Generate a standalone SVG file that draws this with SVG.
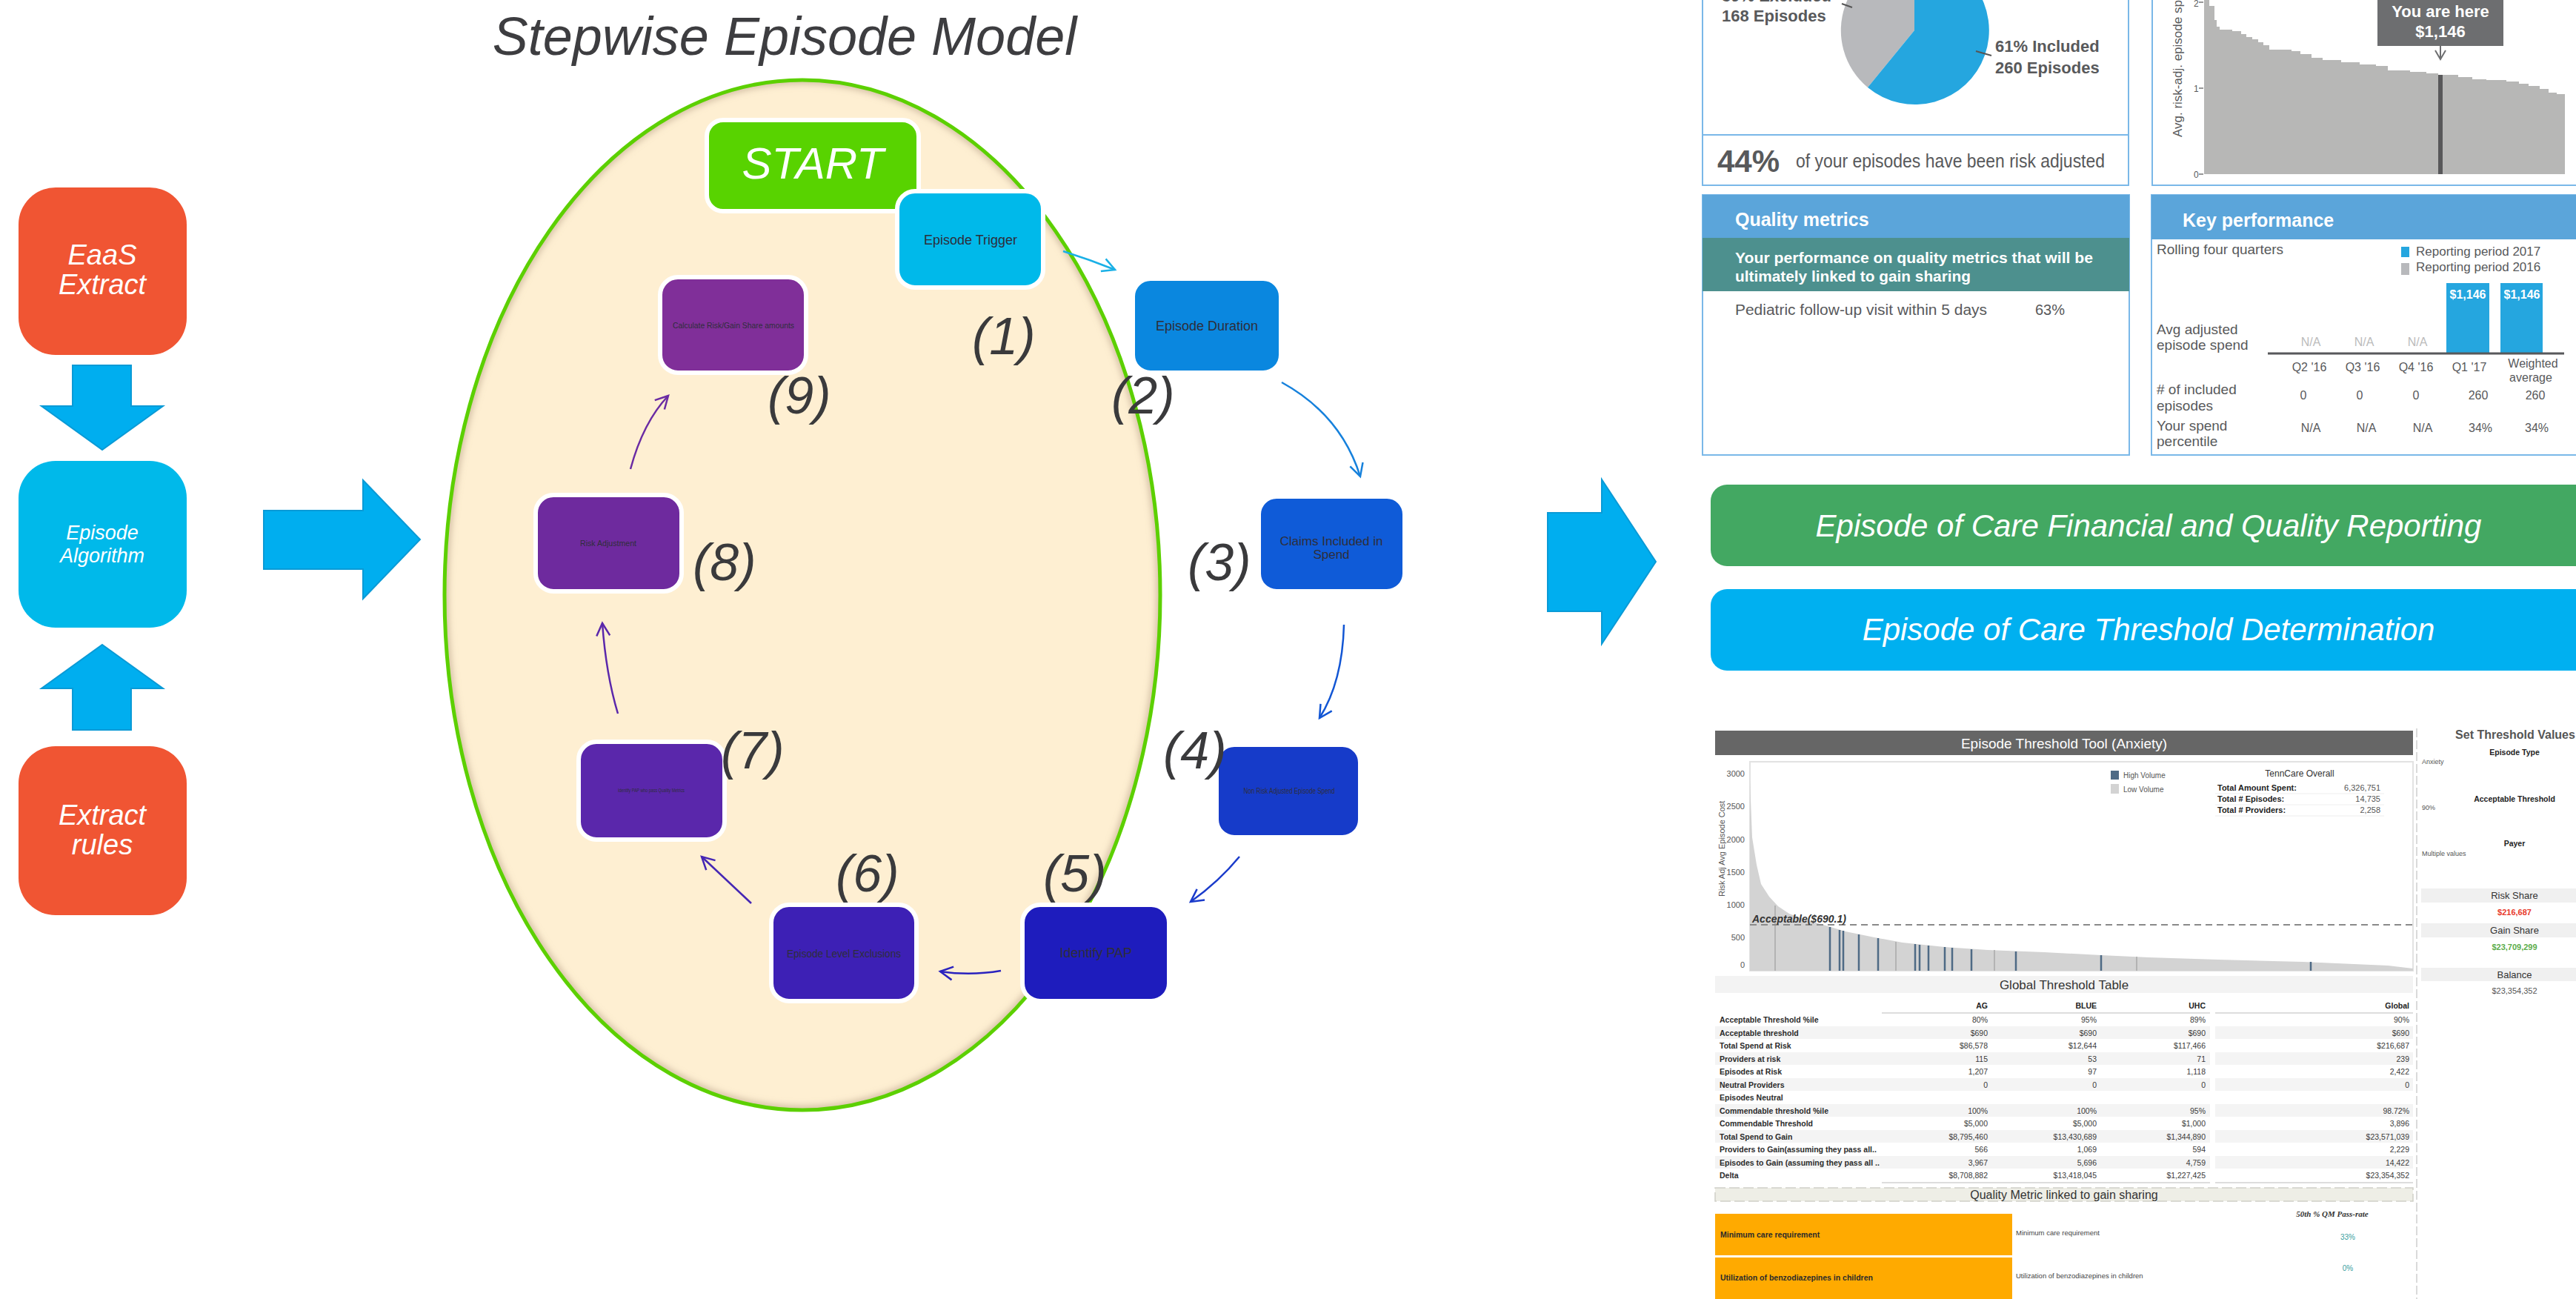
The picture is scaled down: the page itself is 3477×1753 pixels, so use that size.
<svg xmlns="http://www.w3.org/2000/svg" width="3477" height="1753" viewBox="0 0 3477 1753">
<style>
.t{font-family:"Liberation Sans",Arial,sans-serif}
.num{font-family:"Liberation Sans",Arial,sans-serif;font-style:italic;font-size:70px;fill:#3a3a3c}
.nd{stroke:#fff;stroke-width:6}
.ntx{font-family:"Liberation Sans",Arial,sans-serif;fill:#2e2e3a;text-anchor:middle}
.big{fill:#00AEEF;stroke:#0A9AD6;stroke-width:2}
.wl{font-family:"Liberation Sans",Arial,sans-serif;font-style:italic;fill:#fff;text-anchor:middle}
.con{fill:none;stroke-width:2.5}
.db{font-family:"Liberation Sans",Arial,sans-serif;fill:#58595B}
.dbb{font-family:"Liberation Sans",Arial,sans-serif;fill:#58595B;font-weight:bold}
.wb{font-family:"Liberation Sans",Arial,sans-serif;fill:#fff;font-weight:bold}
.pb{fill:none;stroke:#7AB8E8;stroke-width:2}
.tl{font-family:"Liberation Sans",Arial,sans-serif;font-size:10.5px;fill:#2b2b2b;font-weight:bold}
.tv{font-family:"Liberation Sans",Arial,sans-serif;font-size:10.5px;fill:#3a3a3a;text-anchor:end}
.sh{fill:#F4F4F4}
.hv{stroke:#4E6A85;stroke-width:2.5}
.lv{stroke:#A9A9A9;stroke-width:1.5}
</style>
<defs>
<marker id="m1" markerUnits="userSpaceOnUse" markerWidth="26" markerHeight="24" refX="20" refY="12" orient="auto"><path d="M3,3 L20,12 L3,21" fill="none" stroke="#1AB0E6" stroke-width="2.5"/></marker>
<marker id="m2" markerUnits="userSpaceOnUse" markerWidth="26" markerHeight="24" refX="20" refY="12" orient="auto"><path d="M3,3 L20,12 L3,21" fill="none" stroke="#1681DC" stroke-width="2.5"/></marker>
<marker id="m3" markerUnits="userSpaceOnUse" markerWidth="26" markerHeight="24" refX="20" refY="12" orient="auto"><path d="M3,3 L20,12 L3,21" fill="none" stroke="#1256D4" stroke-width="2.5"/></marker>
<marker id="m4" markerUnits="userSpaceOnUse" markerWidth="26" markerHeight="24" refX="20" refY="12" orient="auto"><path d="M3,3 L20,12 L3,21" fill="none" stroke="#1A3BCB" stroke-width="2.5"/></marker>
<marker id="m5" markerUnits="userSpaceOnUse" markerWidth="26" markerHeight="24" refX="20" refY="12" orient="auto"><path d="M3,3 L20,12 L3,21" fill="none" stroke="#2A22BE" stroke-width="2.5"/></marker>
<marker id="m6" markerUnits="userSpaceOnUse" markerWidth="26" markerHeight="24" refX="20" refY="12" orient="auto"><path d="M3,3 L20,12 L3,21" fill="none" stroke="#4526B4" stroke-width="2.5"/></marker>
<marker id="m7" markerUnits="userSpaceOnUse" markerWidth="26" markerHeight="24" refX="20" refY="12" orient="auto"><path d="M3,3 L20,12 L3,21" fill="none" stroke="#5A27AB" stroke-width="2.5"/></marker>
<marker id="m8" markerUnits="userSpaceOnUse" markerWidth="26" markerHeight="24" refX="20" refY="12" orient="auto"><path d="M3,3 L20,12 L3,21" fill="none" stroke="#6A2BA3" stroke-width="2.5"/></marker>
<marker id="ma" markerUnits="userSpaceOnUse" markerWidth="16" markerHeight="16" refX="8" refY="14" orient="0"><path d="M1,2 L8,14 L15,2" fill="none" stroke="#6D6E70" stroke-width="2"/></marker>
<clipPath id="ec"><ellipse cx="1083" cy="803" rx="483" ry="695"/></clipPath>
<filter id="bl" x="-10%" y="-10%" width="120%" height="120%"><feGaussianBlur stdDeviation="5"/></filter>
</defs>
<rect width="3477" height="1753" fill="#fff"/>

<!-- Title -->
<text class="t" x="1059" y="74" font-size="72" font-style="italic" fill="#3d3d40" text-anchor="middle">Stepwise Episode Model</text>

<!-- Left column -->
<g id="eaas-extract">
<rect x="25" y="253" width="227" height="226" rx="50" fill="#F05533"/>
<text class="wl" x="138" y="357" font-size="38">EaaS</text>
<text class="wl" x="138" y="397" font-size="38">Extract</text>
</g>
<g id="episode-algorithm">
<rect x="25" y="622" width="227" height="225" rx="50" fill="#00B9EA"/>
<text class="wl" x="138" y="728" font-size="27">Episode</text>
<text class="wl" x="138" y="759" font-size="27">Algorithm</text>
</g>
<g id="extract-rules">
<rect x="25" y="1007" width="227" height="228" rx="50" fill="#F05533"/>
<text class="wl" x="138" y="1113" font-size="38">Extract</text>
<text class="wl" x="138" y="1153" font-size="38">rules</text>
</g>
<g id="big-arrows">
<polygon class="big" points="98,493 177,493 177,548 220,548 138,607 56,548 98,548"/>
<polygon class="big" points="138,870 220,929 177,929 177,985 98,985 98,929 56,929"/>
<polygon class="big" points="356,689 490,689 490,648 567,728 490,808 490,768 356,768"/>
<polygon class="big" points="2089,692 2162,692 2162,647 2235,758 2162,869 2162,825 2089,825"/>
</g>

<!-- Circle -->
<g id="cycle-circle">
<ellipse cx="1083" cy="803" rx="483" ry="695" fill="#FEEFD2"/>
<g clip-path="url(#ec)"><ellipse cx="1083" cy="803" rx="483" ry="695" fill="none" stroke="#B09A80" stroke-opacity="0.6" stroke-width="10" filter="url(#bl)"/></g>
<ellipse cx="1083" cy="803" rx="483" ry="695" fill="none" stroke="#5CD000" stroke-width="5"/>
</g>

<!-- Connectors -->
<g id="connectors">
<path class="con" stroke="#1AB0E6" marker-end="url(#m1)" d="M1435,339 Q1470,350 1505,364"/>
<path class="con" stroke="#1681DC" marker-end="url(#m2)" d="M1730,516 Q1810,560 1836,643"/>
<path class="con" stroke="#1256D4" marker-end="url(#m3)" d="M1814,843 Q1812,920 1781,969"/>
<path class="con" stroke="#1A3BCB" marker-end="url(#m4)" d="M1673,1156 Q1645,1190 1607,1217"/>
<path class="con" stroke="#2A22BE" marker-end="url(#m5)" d="M1351,1310 Q1310,1317 1269,1311"/>
<path class="con" stroke="#4526B4" marker-end="url(#m6)" d="M1014,1219 L947,1156"/>
<path class="con" stroke="#5A27AB" marker-end="url(#m7)" d="M834,963 Q818,910 813,841"/>
<path class="con" stroke="#6A2BA3" marker-end="url(#m8)" d="M851,633 Q868,570 902,534"/>
</g>

<!-- Nodes -->
<g id="start">
<rect class="nd" x="954" y="162" width="286" height="123" rx="22" fill="#58D300"/>
<text class="wl" x="1097" y="241" font-size="60">START</text>
</g>
<g id="step1">
<rect class="nd" x="1211" y="258" width="197" height="130" rx="24" fill="#00B9EA"/>
<text class="ntx" x="1310" y="330" font-size="18">Episode Trigger</text>
<text class="num" x="1312" y="478">(1)</text>
</g>
<g id="step2">
<rect class="nd" x="1529" y="376" width="200" height="127" rx="24" fill="#0A87DF"/>
<text class="ntx" x="1629" y="446" font-size="18">Episode Duration</text>
<text class="num" x="1500" y="558">(2)</text>
</g>
<g id="step3">
<rect class="nd" x="1699" y="670" width="197" height="128" rx="24" fill="#0F5BD8"/>
<text class="ntx" x="1797" y="736" font-size="17">Claims Included in</text>
<text class="ntx" x="1797" y="754" font-size="17">Spend</text>
<text class="num" x="1603" y="783">(3)</text>
</g>
<g id="step4">
<rect class="nd" x="1642" y="1005" width="194" height="125" rx="24" fill="#163BC9"/>
<text class="ntx" x="1740" y="1071" font-size="10" textLength="123" lengthAdjust="spacingAndGlyphs">Non Risk Adjusted Episode Spend</text>
<text class="num" x="1570" y="1037">(4)</text>
</g>
<g id="step5">
<rect class="nd" x="1380" y="1221" width="198" height="130" rx="24" fill="#1E1CBD"/>
<text class="ntx" x="1479" y="1292" font-size="18">Identify PAP</text>
<text class="num" x="1408" y="1203">(5)</text>
</g>
<g id="step6">
<rect class="nd" x="1041" y="1221" width="196" height="130" rx="24" fill="#3D20B5"/>
<text class="ntx" x="1139" y="1292" font-size="14" textLength="154" lengthAdjust="spacingAndGlyphs">Episode Level Exclusions</text>
<text class="num" x="1128" y="1203">(6)</text>
</g>
<g id="step7">
<rect class="nd" x="781" y="1001" width="197" height="132" rx="24" fill="#5A27AB"/>
<text class="ntx" x="879" y="1069" font-size="7" textLength="90" lengthAdjust="spacingAndGlyphs">Identify PAP who pass Quality Metrics</text>
<text class="num" x="973" y="1037">(7)</text>
</g>
<g id="step8">
<rect class="nd" x="723" y="668" width="197" height="130" rx="24" fill="#6E2A9E"/>
<text class="ntx" x="821" y="737" font-size="10" textLength="76" lengthAdjust="spacingAndGlyphs">Risk Adjustment</text>
<text class="num" x="935" y="783">(8)</text>
</g>
<g id="step9">
<rect class="nd" x="891" y="374" width="197" height="129" rx="24" fill="#802F99"/>
<text class="ntx" x="990" y="443" font-size="11" textLength="164" lengthAdjust="spacingAndGlyphs">Calculate Risk/Gain Share amounts</text>
<text class="num" x="1036" y="558">(9)</text>
</g>

<!-- Right side: report dashboard -->
<g id="report-dashboard">
<path class="pb" d="M2298,0 V250 H2873 V0 M2298,182 H2873"/>
<path d="M2584,41 L2521,118 A100,100 0 0 1 2584,-59 Z" fill="#B8B9BC"/>
<path d="M2584,41 L2584,-59 A100,100 0 1 1 2521,118 Z" fill="#25A6DF"/>
<path d="M2486,5 L2500,10 M2667,69 L2688,75" stroke="#555" stroke-width="2"/>
<text class="dbb" x="2324" y="2" font-size="22">39% Excluded</text>
<text class="dbb" x="2324" y="29" font-size="22">168 Episodes</text>
<text class="dbb" x="2693" y="70" font-size="22">61% Included</text>
<text class="dbb" x="2693" y="99" font-size="22">260 Episodes</text>
<text class="dbb" x="2318" y="232" font-size="42">44%</text>
<text class="db" x="2424" y="226" font-size="25" textLength="417" lengthAdjust="spacingAndGlyphs">of your episodes have been risk adjusted</text>

<path class="pb" d="M2905,0 V250 H3480"/>
<text class="db" transform="translate(2945,185) rotate(-90)" font-size="17" fill="#6D6E70">Avg. risk-adj. episode spend</text>
<text class="db" x="2961" y="9" font-size="12">2</text>
<text class="db" x="2961" y="124" font-size="12">1</text>
<text class="db" x="2961" y="240" font-size="12">0</text>
<path d="M2968,3 H2974 M2968,119 H2974 M2968,235 H2974" stroke="#777" stroke-width="1.5"/>
<path fill="#B7B7B6" d="M2975,235 L2975,0 L2982,0 L2982,8 L2989,8 L2989,27 L2992,27 L2992,36 L2996,36 L2996,40 L3013,40 L3013,42 L3025,42 L3025,46 L3032,46 L3032,50 L3040,50 L3040,53 L3048,53 L3048,57 L3055,57 L3055,61 L3063,61 L3063,67 L3093,67 L3093,69 L3105,69 L3105,73 L3120,73 L3120,78 L3135,78 L3135,81 L3160,81 L3160,84 L3185,84 L3185,87 L3207,87 L3207,89 L3223,89 L3223,95 L3253,95 L3253,97 L3275,97 L3275,99 L3291,99 L3291,101 L3318,101 L3318,104 L3337,104 L3337,107 L3356,107 L3356,108 L3383,108 L3383,110 L3400,110 L3400,113 L3413,113 L3413,116 L3428,116 L3428,120 L3440,120 L3440,125 L3451,125 L3451,127 L3462,127 L3462,235 Z"/>
<rect x="3291" y="101" width="6" height="134" fill="#58585A"/>
<rect x="3209" y="0" width="170" height="62" fill="#6D6E70"/>
<text class="wb" x="3294" y="23" font-size="22" text-anchor="middle">You are here</text>
<text class="wb" x="3294" y="50" font-size="22" text-anchor="middle">$1,146</text>
<path d="M3294,62 V80" stroke="#6D6E70" stroke-width="2" marker-end="url(#ma)"/>

<rect x="2298" y="263" width="576" height="351" class="pb"/>
<rect x="2298" y="263" width="576" height="58" fill="#5BA5DA"/>
<rect x="2298" y="321" width="576" height="72" fill="#4D908E"/>
<text class="wb" x="2342" y="305" font-size="25">Quality metrics</text>
<text class="wb" x="2342" y="355" font-size="21" textLength="483" lengthAdjust="spacingAndGlyphs">Your performance on quality metrics that will be</text>
<text class="wb" x="2342" y="380" font-size="21" textLength="318" lengthAdjust="spacingAndGlyphs">ultimately linked to gain sharing</text>
<text class="db" x="2342" y="425" font-size="20" textLength="340" lengthAdjust="spacingAndGlyphs">Pediatric follow-up visit within 5 days</text>
<text class="db" x="2747" y="425" font-size="20">63%</text>

<path class="pb" d="M3480,263 H2904 V614 H3480"/>
<rect x="2904" y="263" width="580" height="60" fill="#5BA5DA"/>
<text class="wb" x="2946" y="306" font-size="25">Key performance</text>
<text class="db" x="2911" y="343" font-size="19">Rolling four quarters</text>
<rect x="3241" y="333" width="11" height="14" fill="#25A6DF"/>
<rect x="3241" y="355" width="11" height="16" fill="#B8B9BC"/>
<text class="db" x="3261" y="345" font-size="17">Reporting period 2017</text>
<text class="db" x="3261" y="366" font-size="17">Reporting period 2016</text>
<rect x="3302" y="382" width="58" height="94" fill="#25A6DF"/>
<rect x="3375" y="382" width="57" height="94" fill="#25A6DF"/>
<text class="wb" x="3331" y="403" font-size="16" text-anchor="middle">$1,146</text>
<text class="wb" x="3404" y="403" font-size="16" text-anchor="middle">$1,146</text>
<path d="M3061,477 H3461" stroke="#58595B" stroke-width="3"/>
<text class="db" x="2911" y="451" font-size="19">Avg adjusted</text>
<text class="db" x="2911" y="472" font-size="19">episode spend</text>
<g font-size="16" fill="#BBBBBB" font-family="Liberation Sans, Arial, sans-serif" text-anchor="middle">
<text x="3119" y="467">N/A</text><text x="3191" y="467">N/A</text><text x="3263" y="467">N/A</text>
</g>
<g class="db" font-size="16" text-anchor="middle">
<text x="3117" y="501">Q2 '16</text><text x="3189" y="501">Q3 '16</text><text x="3261" y="501">Q4 '16</text><text x="3333" y="501">Q1 '17</text>
<text x="3419" y="496">Weighted</text><text x="3416" y="515">average</text>
<text x="3109" y="539">0</text><text x="3185" y="539">0</text><text x="3261" y="539">0</text><text x="3345" y="539">260</text><text x="3422" y="539">260</text>
<text x="3119" y="583">N/A</text><text x="3194" y="583">N/A</text><text x="3270" y="583">N/A</text><text x="3348" y="583">34%</text><text x="3424" y="583">34%</text>
</g>
<text class="db" x="2911" y="532" font-size="19"># of included</text>
<text class="db" x="2911" y="554" font-size="19">episodes</text>
<text class="db" x="2911" y="581" font-size="19">Your spend</text>
<text class="db" x="2911" y="602" font-size="19">percentile</text>
</g>

<g id="financial-quality-reporting">
<rect x="2309" y="654" width="1200" height="110" rx="22" fill="#43A862"/>
<text class="wl" x="2900" y="724" font-size="42">Episode of Care Financial and Quality Reporting</text>
</g>
<g id="threshold-determination">
<rect x="2309" y="795" width="1200" height="110" rx="22" fill="#00B0F0"/>
<text class="wl" x="2900" y="864" font-size="42">Episode of Care Threshold Determination</text>
</g>

<!-- Threshold tool screenshot -->
<g id="threshold-tool">
<rect x="2315" y="986" width="942" height="33" fill="#666666"/>
<text class="t" x="2786" y="1010" font-size="19" fill="#fff" text-anchor="middle">Episode Threshold Tool (Anxiety)</text>
<rect x="2362" y="1028" width="895" height="282" fill="#fff" stroke="#E2E2E2" stroke-width="2"/>
<g class="t" font-size="11" fill="#555" text-anchor="end">
<text x="2355" y="1048">3000</text><text x="2355" y="1092">2500</text><text x="2355" y="1137">2000</text><text x="2355" y="1181">1500</text><text x="2355" y="1225">1000</text><text x="2355" y="1269">500</text><text x="2355" y="1306">0</text>
</g>
<text class="t" transform="translate(2328,1210) rotate(-90)" font-size="11" fill="#555">Risk Adj Avg Episode Cost</text>
<path fill="#D3D3D3" d="M2362,1310 L2362,1054 L2365,1130 L2371,1167 L2377,1193 L2388,1210 L2400,1223 L2415,1233 L2434,1240 L2461,1248 L2491,1257 L2530,1265 L2568,1272 L2625,1278 L2683,1282 L2759,1285 L2836,1289 L2900,1292 L2994,1295 L3108,1298 L3223,1303 L3257,1307 L3257,1310 Z"/>
<path class="lv" d="M2396,1222 V1310 M2559,1271 V1310 M2692,1282 V1310 M2884,1291 V1310"/>
<path class="hv" d="M2470,1251 V1310 M2483,1255 V1310 M2488,1256 V1310 M2509,1261 V1310 M2535,1266 V1310 M2585,1274 V1310 M2591,1275 V1310 M2603,1276 V1310 M2625,1278 V1310 M2635,1279 V1310 M2661,1281 V1310 M2721,1284 V1310 M2836,1289 V1310 M3119,1298 V1310"/>
<path d="M2362,1248 H3257" stroke="#8A8A8A" stroke-width="2" stroke-dasharray="9,6"/>
<text class="t" x="2365" y="1245" font-size="14" font-weight="bold" font-style="italic" fill="#333">Acceptable($690.1)</text>
<rect x="2849" y="1040" width="11" height="12" fill="#4E6A85"/>
<rect x="2849" y="1058" width="11" height="13" fill="#D3D3D3"/>
<text class="t" x="2866" y="1050" font-size="10" fill="#555">High Volume</text>
<text class="t" x="2866" y="1069" font-size="10" fill="#555">Low Volume</text>
<text class="t" x="3104" y="1048" font-size="12" fill="#333" text-anchor="middle">TennCare Overall</text>
<g class="t" font-size="11" fill="#222">
<text x="2993" y="1067" font-weight="bold">Total Amount Spent:</text>
<text x="2993" y="1082" font-weight="bold">Total # Episodes:</text>
<text x="2993" y="1097" font-weight="bold">Total # Providers:</text>
<text x="3213" y="1067" text-anchor="end" fill="#555">6,326,751</text>
<text x="3213" y="1082" text-anchor="end" fill="#555">14,735</text>
<text x="3213" y="1097" text-anchor="end" fill="#555">2,258</text>
</g>
<path d="M2990,1071 H3218 M2990,1086 H3218 M2990,1101 H3218" stroke="#EEEEEE" stroke-width="1"/>

<path d="M3262,983 V1753" stroke="#DADADA" stroke-width="2" stroke-dasharray="12,4"/>
<text class="t" x="3395" y="997" font-size="16" fill="#555" font-weight="bold" text-anchor="middle">Set Threshold Values</text>
<g class="t" font-size="10.5" font-weight="bold" fill="#222" text-anchor="middle">
<text x="3394" y="1019">Episode Type</text>
<text x="3394" y="1082">Acceptable Threshold</text>
<text x="3394" y="1142">Payer</text>
</g>
<g class="t" font-size="9" fill="#555">
<text x="3269" y="1031">Anxiety</text>
<text x="3269" y="1093">90%</text>
<text x="3269" y="1155">Multiple values</text>
</g>
<rect x="3268" y="1199" width="215" height="19" fill="#F0F0F0"/>
<rect x="3268" y="1246" width="215" height="19" fill="#F0F0F0"/>
<rect x="3268" y="1306" width="215" height="18" fill="#F0F0F0"/>
<g class="t" font-size="13" fill="#333" text-anchor="middle">
<text x="3394" y="1213">Risk Share</text>
<text x="3394" y="1260">Gain Share</text>
<text x="3394" y="1320">Balance</text>
</g>
<g class="t" font-size="11" font-weight="bold" text-anchor="middle">
<text x="3394" y="1235" fill="#E8392B">$216,687</text>
<text x="3394" y="1282" fill="#5CAD4B">$23,709,299</text>
<text x="3394" y="1341" fill="#555" font-weight="normal">$23,354,352</text>
</g>

<rect x="2315" y="1317" width="942" height="23" fill="#F3F3F3"/>
<text class="t" x="2786" y="1335" font-size="17" fill="#333" text-anchor="middle">Global Threshold Table</text>
<g class="t" font-size="10.5" font-weight="bold" fill="#222" text-anchor="end">
<text x="2683" y="1361">AG</text><text x="2830" y="1361">BLUE</text><text x="2977" y="1361">UHC</text><text x="3252" y="1361">Global</text>
</g>
<path d="M2540,1367 H2983 M2990,1367 H3257 M2540,1596 H2983 M2990,1596 H3257" stroke="#DDDDDD" stroke-width="2"/>
<g>
<rect class="sh" x="2315" y="1385" width="668" height="17"/><rect class="sh" x="2990" y="1385" width="267" height="17"/>
<rect class="sh" x="2315" y="1420" width="668" height="17"/><rect class="sh" x="2990" y="1420" width="267" height="17"/>
<rect class="sh" x="2315" y="1455" width="668" height="17"/><rect class="sh" x="2990" y="1455" width="267" height="17"/>
<rect class="sh" x="2315" y="1490" width="668" height="17"/><rect class="sh" x="2990" y="1490" width="267" height="17"/>
<rect class="sh" x="2315" y="1525" width="668" height="17"/><rect class="sh" x="2990" y="1525" width="267" height="17"/>
<rect class="sh" x="2315" y="1560" width="668" height="17"/><rect class="sh" x="2990" y="1560" width="267" height="17"/>
</g>
<g>
<text class="tl" x="2321" y="1380">Acceptable Threshold %ile</text>
<text class="tl" x="2321" y="1398">Acceptable threshold</text>
<text class="tl" x="2321" y="1415">Total Spend at Risk</text>
<text class="tl" x="2321" y="1433">Providers at risk</text>
<text class="tl" x="2321" y="1450">Episodes at Risk</text>
<text class="tl" x="2321" y="1468">Neutral Providers</text>
<text class="tl" x="2321" y="1485">Episodes Neutral</text>
<text class="tl" x="2321" y="1503">Commendable threshold %ile</text>
<text class="tl" x="2321" y="1520">Commendable Threshold</text>
<text class="tl" x="2321" y="1538">Total Spend to Gain</text>
<text class="tl" x="2321" y="1555">Providers to Gain(assuming they pass all..</text>
<text class="tl" x="2321" y="1573">Episodes to Gain (assuming they pass all ..</text>
<text class="tl" x="2321" y="1590">Delta</text>
</g>
<g>
<text class="tv" x="2683" y="1380">80%</text><text class="tv" x="2830" y="1380">95%</text><text class="tv" x="2977" y="1380">89%</text><text class="tv" x="3252" y="1380">90%</text>
<text class="tv" x="2683" y="1398">$690</text><text class="tv" x="2830" y="1398">$690</text><text class="tv" x="2977" y="1398">$690</text><text class="tv" x="3252" y="1398">$690</text>
<text class="tv" x="2683" y="1415">$86,578</text><text class="tv" x="2830" y="1415">$12,644</text><text class="tv" x="2977" y="1415">$117,466</text><text class="tv" x="3252" y="1415">$216,687</text>
<text class="tv" x="2683" y="1433">115</text><text class="tv" x="2830" y="1433">53</text><text class="tv" x="2977" y="1433">71</text><text class="tv" x="3252" y="1433">239</text>
<text class="tv" x="2683" y="1450">1,207</text><text class="tv" x="2830" y="1450">97</text><text class="tv" x="2977" y="1450">1,118</text><text class="tv" x="3252" y="1450">2,422</text>
<text class="tv" x="2683" y="1468">0</text><text class="tv" x="2830" y="1468">0</text><text class="tv" x="2977" y="1468">0</text><text class="tv" x="3252" y="1468">0</text>
<text class="tv" x="2683" y="1503">100%</text><text class="tv" x="2830" y="1503">100%</text><text class="tv" x="2977" y="1503">95%</text><text class="tv" x="3252" y="1503">98.72%</text>
<text class="tv" x="2683" y="1520">$5,000</text><text class="tv" x="2830" y="1520">$5,000</text><text class="tv" x="2977" y="1520">$1,000</text><text class="tv" x="3252" y="1520">3,896</text>
<text class="tv" x="2683" y="1538">$8,795,460</text><text class="tv" x="2830" y="1538">$13,430,689</text><text class="tv" x="2977" y="1538">$1,344,890</text><text class="tv" x="3252" y="1538">$23,571,039</text>
<text class="tv" x="2683" y="1555">566</text><text class="tv" x="2830" y="1555">1,069</text><text class="tv" x="2977" y="1555">594</text><text class="tv" x="3252" y="1555">2,229</text>
<text class="tv" x="2683" y="1573">3,967</text><text class="tv" x="2830" y="1573">5,696</text><text class="tv" x="2977" y="1573">4,759</text><text class="tv" x="3252" y="1573">14,422</text>
<text class="tv" x="2683" y="1590">$8,708,882</text><text class="tv" x="2830" y="1590">$13,418,045</text><text class="tv" x="2977" y="1590">$1,227,425</text><text class="tv" x="3252" y="1590">$23,354,352</text>
</g>

<rect x="2315" y="1603" width="942" height="18" fill="#EEEEE6" stroke="#CFCFC8" stroke-width="1.5" stroke-dasharray="14,5"/>
<text class="t" x="2786" y="1618" font-size="16" fill="#333" text-anchor="middle">Quality Metric linked to gain sharing</text>
<text x="3148" y="1642" font-family="Liberation Serif, serif" font-size="11" font-weight="bold" font-style="italic" fill="#333" text-anchor="middle">50th % QM Pass-rate</text>
<rect x="2315" y="1638" width="401" height="56" fill="#FFAA00"/>
<rect x="2315" y="1697" width="401" height="60" fill="#FFAA00"/>
<text class="tl" x="2322" y="1670" font-size="11">Minimum care requirement</text>
<text class="tl" x="2322" y="1728" font-size="11">Utilization of benzodiazepines in children</text>
<text class="t" x="2721" y="1667" font-size="9.5" fill="#444">Minimum care requirement</text>
<text class="t" x="2721" y="1725" font-size="9.5" fill="#444">Utilization of benzodiazepines in children</text>
<text class="t" x="3169" y="1673" font-size="10" fill="#3AA0A0" text-anchor="middle">33%</text>
<text class="t" x="3169" y="1715" font-size="10" fill="#3AA0A0" text-anchor="middle">0%</text>
</g>
</svg>
